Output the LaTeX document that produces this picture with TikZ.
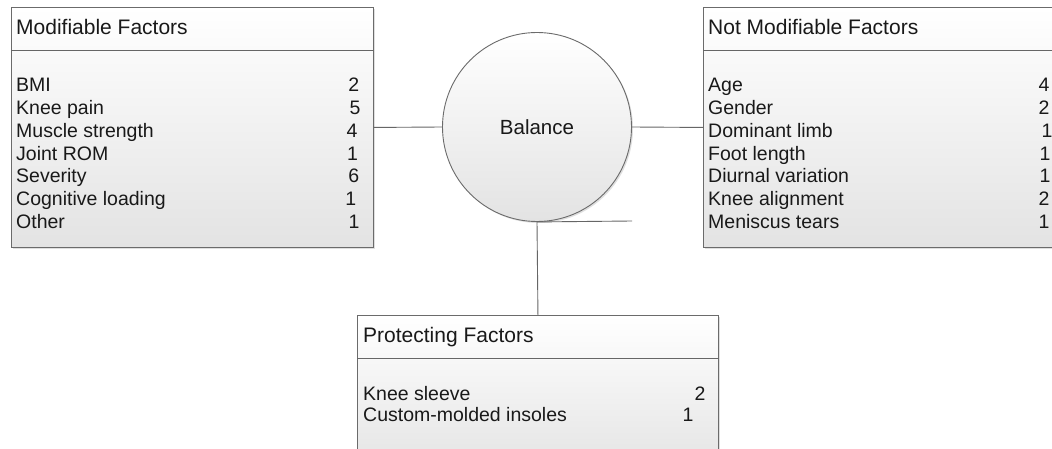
\documentclass[tikz,border=0pt]{standalone}
\usepackage{fontspec}
\setmainfont{Liberation Sans}
\usetikzlibrary{shadows}

\begin{document}
\begin{tikzpicture}[x=1pt,y=-1pt,
  factorbox/.style={draw=black!58,line width=0.9pt,top color=white,bottom color=black!11,drop shadow={opacity=0.25,shadow xshift=1.5pt,shadow yshift=-1.5pt},anchor=north west,inner sep=0pt},
  balancecirc/.style={circle,draw=black!58,line width=0.9pt,top color=white,bottom color=black!11,drop shadow={opacity=0.25,shadow xshift=1.5pt,shadow yshift=-1.5pt},inner sep=0pt,minimum size=189pt,font=\fontsize{20.5}{24}\selectfont,text=black!90},
  titletext/.style={anchor=base west,inner sep=0pt,font=\fontsize{21}{25}\selectfont,text=black!90},
  rowtext/.style={anchor=base west,inner sep=0pt,font=\fontsize{19.5}{23}\selectfont,text=black!90},
  rownum/.style={anchor=base,inner sep=0pt,font=\fontsize{19.5}{23}\selectfont,text=black!90},
  conn/.style={draw=black!60,line width=0.9pt}]
\clip (0,0) rectangle (1052,449);
\fill[white] (0,0) rectangle (1052,449);

% the three boxes and the circle
\node[factorbox,minimum width=362pt,minimum height=240pt] (modbox) at (11,7) {};
\node[factorbox,minimum width=380pt,minimum height=240pt] (notmodbox) at (703,7) {};
\node[factorbox,minimum width=361pt,minimum height=160pt] (protbox) at (357,315) {};
\node[balancecirc] (balance) at (537,127) {Balance};

% header lines
\draw[conn] ([yshift=-43pt]modbox.north west) -- ([yshift=-43pt]modbox.north east);
\draw[conn] ([yshift=-43pt]notmodbox.north west) -- ([yshift=-43pt]notmodbox.north east);
\draw[conn] ([yshift=-43pt]protbox.north west) -- ([yshift=-43pt]protbox.north east);

% connectors
\coordinate (stub) at (632,221);
\draw[conn] (modbox.east) -- (balance.west);
\draw[conn] (balance.east) -- (notmodbox.west);
\draw[conn] (balance.south) -- (protbox.north);
\draw[conn] (balance.south) -- (stub);

% Modifiable Factors
\node[titletext] (modtitle) at (16,35) {Modifiable Factors};
\foreach \lbl/\num/\nx [count=\i from 0] in {BMI/2/353.7,Knee pain/5/355,Muscle strength/4/352,Joint ROM/1/352.5,Severity/6/353.7,Cognitive loading/1/350.8,Other/1/354}{
  \node[rowtext] (mod\i) at (16,{91.7+22.8*\i}) {\lbl};
  \node[rownum] (modn\i) at (\nx,{91.7+22.8*\i}) {\num};
}

% Not Modifiable Factors
\node[titletext] (notmodtitle) at (708,35) {Not Modifiable Factors};
\foreach \lbl/\num/\nx [count=\i from 0] in {Age/4/1044,Gender/2/1044,Dominant limb/1/1047,Foot length/1/1045,Diurnal variation/1/1045,Knee alignment/2/1044,Meniscus tears/1/1044}{
  \node[rowtext] (notmod\i) at (708,{91.7+22.8*\i}) {\lbl};
  \node[rownum] (notmodn\i) at (\nx,{91.7+22.8*\i}) {\num};
}

% Protecting Factors
\node[titletext] (prottitle) at (363,342.7) {Protecting Factors};
\node[rowtext] (prot0) at (363,400.7) {Knee sleeve};
\node[rownum] (protn0) at (700,400.7) {2};
\node[rowtext] (prot1) at (363,421.7) {Custom-molded insoles};
\node[rownum] (protn1) at (688,421.7) {1};
\end{tikzpicture}
\end{document}
